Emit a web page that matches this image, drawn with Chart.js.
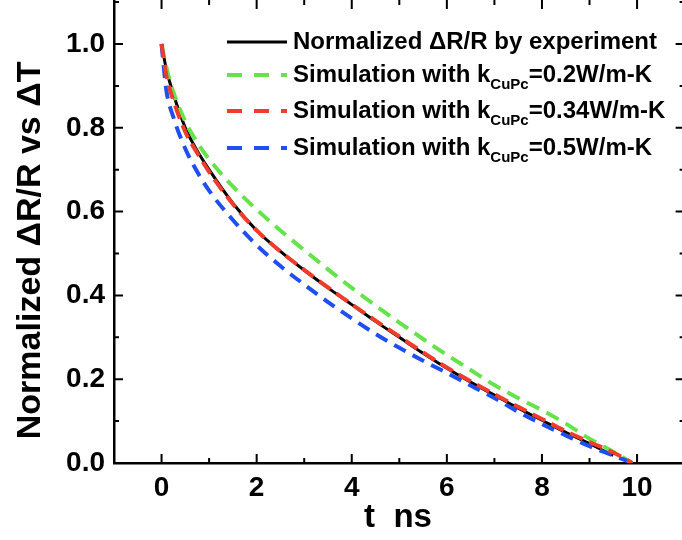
<!DOCTYPE html>
<html>
<head>
<meta charset="utf-8">
<script src="https://cdn.jsdelivr.net/npm/chart.js@4/dist/chart.umd.min.js"></script>
<style>
  html, body { margin: 0; padding: 0; background: #fff; }
</style>
</head>
<body>
<canvas id="grafico" width="682" height="540"></canvas>
<script>
// tempo em ns e curvas normalizadas
const tempoNs     = [0, 0.1, 0.25, 0.5, 0.75, 1, 1.5, 2, 2.5, 3, 3.5, 4, 4.5, 5, 5.5, 6, 6.5, 7, 7.5, 8, 8.5, 9, 9.5, 9.9];
const experimento = [1.0, 0.94, 0.88, 0.80, 0.745, 0.70, 0.62, 0.555, 0.505, 0.46, 0.418, 0.378, 0.338, 0.30, 0.262, 0.226, 0.193, 0.162, 0.131, 0.102, 0.073, 0.046, 0.018, null];
const simK02      = [1.0, 0.945, 0.885, 0.815, 0.765, 0.725, 0.66, 0.605, 0.555, 0.508, 0.462, 0.418, 0.376, 0.335, 0.296, 0.258, 0.222, 0.186, 0.155, 0.126, 0.094, 0.058, 0.027, 0.0];
const simK034     = [1.0, 0.925, 0.865, 0.79, 0.74, 0.695, 0.618, 0.555, 0.505, 0.461, 0.419, 0.379, 0.34, 0.302, 0.264, 0.228, 0.195, 0.164, 0.134, 0.105, 0.076, 0.05, 0.025, 0.0];
const simK05      = [1.0, 0.89, 0.825, 0.75, 0.695, 0.65, 0.58, 0.52, 0.47, 0.426, 0.384, 0.345, 0.308, 0.275, 0.244, 0.215, 0.185, 0.155, 0.122, 0.093, 0.066, 0.04, 0.018, 0.0];

const xTicks = [0, 2, 4, 6, 8, 10];
const yTicks = [0, 0.2, 0.4, 0.6, 0.8, 1.0];

const legendas = [
    { antes: 'Normalized \u0394R/R by experiment', sub: '', depois: '', cor: '#000000', tracejado: [] },
    { antes: 'Simulation with k', sub: 'CuPc', depois: '=0.2W/m-K', cor: '#66e34c', tracejado: [15, 12] },
    { antes: 'Simulation with k', sub: 'CuPc', depois: '=0.34W/m-K', cor: '#f03c2a', tracejado: [15, 12] },
    { antes: 'Simulation with k', sub: 'CuPc', depois: '=0.5W/m-K', cor: '#1f4ff0', tracejado: [15, 12] }
];

function pontos(valores) {
    return tempoNs.map((t, i) => ({ x: t, y: valores[i] }));
}

Chart.defaults.font.family = '"Liberation Sans", Arial, sans-serif';
Chart.defaults.color = '#000';

// ticks para dentro nos quatro lados
const ticksParaDentro = {
    id: 'ticksParaDentro',
    afterDraw(chart) {
        const ctx = chart.ctx;
        const { left, right, top, bottom } = chart.chartArea;
        const sx = chart.scales.x, sy = chart.scales.y;
        const xDir = sx.getPixelForValue(11);
        ctx.save();
        ctx.strokeStyle = '#000';
        ctx.lineWidth = 2;
        ctx.beginPath();
        for (let v = -1; v <= 11; v++) {
            const px = sx.getPixelForValue(v);
            if (px < left + 1 || px > right) continue;
            const len = v % 2 === 0 ? 9 : 5;
            ctx.moveTo(px, bottom); ctx.lineTo(px, bottom - len);
            ctx.moveTo(px, top); ctx.lineTo(px, top + len);
        }
        for (let k = 0; k <= 11; k++) {
            const py = sy.getPixelForValue(k / 10);
            if (py < top) continue;
            const len = k % 2 === 0 ? 9 : 5;
            if (k > 0) { ctx.moveTo(left, py); ctx.lineTo(left + len, py); }
            ctx.moveTo(xDir, py); ctx.lineTo(xDir - len, py);
        }
        ctx.stroke();
        ctx.restore();
    }
};

// legenda com subscrito
const legendaCustom = {
    id: 'legendaCustom',
    afterDatasetsDraw(chart) {
        const ctx = chart.ctx;
        const linhas = [42, 75, 111, 148];
        ctx.save();
        legendas.forEach((l, i) => {
            const y = linhas[i];
            ctx.strokeStyle = l.cor;
            ctx.lineWidth = i === 0 ? 3 : 4;
            ctx.setLineDash(l.tracejado);
            ctx.beginPath();
            ctx.moveTo(227, y);
            ctx.lineTo(287, y);
            ctx.stroke();
            ctx.setLineDash([]);

            ctx.fillStyle = '#000';
            ctx.textBaseline = 'middle';
            ctx.font = 'bold 24px "Liberation Sans", Arial, sans-serif';
            let x = 293;
            ctx.fillText(l.antes, x, y);
            x += ctx.measureText(l.antes).width;
            if (l.sub) {
                ctx.font = 'bold 15px "Liberation Sans", Arial, sans-serif';
                ctx.fillText(l.sub, x, y + 10);
                x += ctx.measureText(l.sub).width;
                ctx.font = 'bold 24px "Liberation Sans", Arial, sans-serif';
                ctx.fillText(l.depois, x, y);
            }
        });
        ctx.restore();
    }
};

const ctx = document.getElementById('grafico').getContext('2d');
new Chart(ctx, {
    type: 'line',
    data: {
        datasets: [
            { label: 'experimento', data: pontos(experimento), borderColor: legendas[0].cor, borderWidth: 3, order: 4 },
            { label: 'k=0.2', data: pontos(simK02), borderColor: legendas[1].cor, borderWidth: 4, borderDash: [14, 8], order: 3 },
            { label: 'k=0.34', data: pontos(simK034), borderColor: legendas[2].cor, borderWidth: 4, borderDash: [14, 7], order: 1 },
            { label: 'k=0.5', data: pontos(simK05), borderColor: legendas[3].cor, borderWidth: 4, borderDash: [13, 8], order: 2 }
        ]
    },
    options: {
        responsive: false,
        animation: false,
        layout: { padding: 0 },
        elements: {
            point: { radius: 0 },
            line: { cubicInterpolationMode: 'monotone', fill: false }
        },
        plugins: { legend: { display: false }, tooltip: { enabled: false } },
        scales: {
            x: {
                type: 'linear',
                min: -1,
                max: 10.945,
                afterBuildTicks: s => { s.ticks = xTicks.map(v => ({ value: v })); },
                afterFit: s => { s.height = 77; s.paddingLeft = 0; s.paddingRight = 0; },
                ticks: { font: { size: 28, weight: 'bold' }, padding: 8, maxRotation: 0, callback: v => String(v) },
                grid: { display: true, color: 'rgba(0,0,0,0)', drawTicks: false },
                border: { display: true, color: '#000', width: 2.5 },
                title: { display: true, text: 't  ns', font: { size: 33, weight: 'bold' }, padding: { top: 0, bottom: 2 } }
            },
            y: {
                min: 0,
                max: 1.105,
                afterBuildTicks: s => { s.ticks = yTicks.map(v => ({ value: v })); },
                afterFit: s => { s.width = 114; s.paddingTop = 0; s.paddingBottom = 0; },
                ticks: { font: { size: 28, weight: 'bold' }, padding: 9, callback: v => v.toFixed(1) },
                grid: { display: true, color: 'rgba(0,0,0,0)', drawTicks: false },
                border: { display: true, color: '#000', width: 2.5 },
                title: { display: true, text: 'Normalized \u0394R/R vs \u0394T    ', font: { size: 34, weight: 'bold' }, padding: { top: 10, bottom: 0 } }
            }
        }
    },
    plugins: [ticksParaDentro, legendaCustom]
});
</script>
</body>
</html>
